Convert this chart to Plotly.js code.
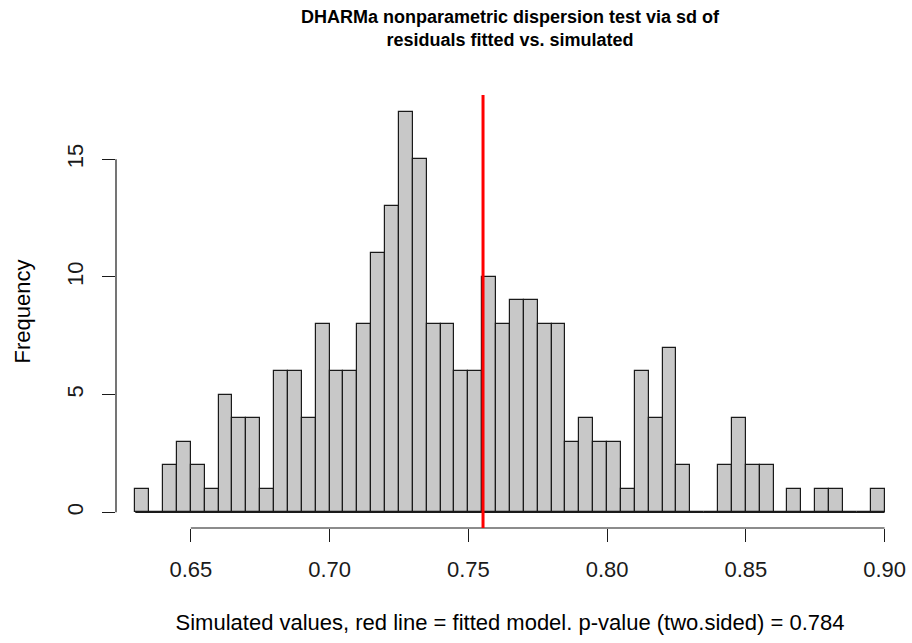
<!DOCTYPE html>
<html>
<head>
<meta charset="utf-8">
<script src="https://cdn.plot.ly/plotly-3.0.1.min.js"></script>
<style>
  html, body { margin: 0; padding: 0; background: #ffffff; }
  #chart { width: 912px; height: 643px; }
</style>
</head>
<body>
<div id="chart"></div>
<script>
// Histogram bins (width 0.005, starting at 0.630)
const binStart = 0.630;
const binWidth = 0.005;
const counts = [
  1, 0, 2, 3, 2, 1, 5, 4, 4, 1,
  6, 6, 4, 8, 6, 6, 8, 11, 13, 17,
  15, 8, 8, 6, 6, 10, 8, 9, 9, 8,
  8, 3, 4, 3, 3, 1, 6, 4, 7, 2,
  0, 0, 2, 4, 2, 2, 0, 1, 0, 1,
  1, 0, 0, 1
];
const fittedValue = 0.7553;
const xTicks = [0.65, 0.70, 0.75, 0.80, 0.85, 0.90];
const yTicks = [0, 5, 10, 15];
const titleText = "DHARMa nonparametric dispersion test via sd of<br>residuals fitted vs. simulated";
const xTitle = "Simulated values, red line = fitted model. p-value (two.sided) = 0.784";
const yTitle = "Frequency";

const centers = counts.map((c, i) => binStart + binWidth * (i + 0.5));
const binEnd = binStart + binWidth * counts.length;

const FONT = "Liberation Sans, Arial, Helvetica, sans-serif";

const trace = {
  type: "bar",
  x: centers,
  y: counts,
  width: counts.map(() => binWidth),
  marker: { color: "#c8c8c8", line: { color: "#1a1a1a", width: 1.2 } },
  hoverinfo: "x+y",
  showlegend: false
};

const layout = {
  width: 912,
  height: 643,
  margin: { l: 116, r: 8, t: 95, b: 115 },
  paper_bgcolor: "#ffffff",
  plot_bgcolor: "#ffffff",
  font: { family: FONT, color: "#000000", size: 22 },
  bargap: 0,
  title: {
    text: "<b>" + titleText + "</b>",
    font: { family: FONT, size: 18, color: "#000000" },
    x: 0.5, xanchor: "center",
    y: 1 - 23 / 643, yanchor: "top",
    xref: "paper", yref: "container"
  },
  xaxis: {
    range: [0.62304, 0.907],
    tickvals: xTicks,
    ticktext: xTicks.map(v => v.toFixed(2)),
    ticks: "outside",
    ticklen: 13,
    tickwidth: 1.2,
    tickcolor: "#1a1a1a",
    showline: false,
    showgrid: false,
    zeroline: false,
    tickfont: { family: FONT, size: 22, color: "#1a1a1a" },
    ticklabelstandoff: 9,
    title: { text: xTitle, font: { family: FONT, size: 22, color: "#000000" }, standoff: 33 }
  },
  yaxis: {
    range: [-0.667, 17.73],
    tickvals: yTicks,
    ticktext: yTicks.map(String),
    tickangle: -90,
    ticks: "outside",
    ticklen: 13,
    tickwidth: 1.2,
    tickcolor: "#1a1a1a",
    showline: false,
    showgrid: false,
    zeroline: false,
    tickfont: { family: FONT, size: 22, color: "#1a1a1a" },
    ticklabelstandoff: 10,
    title: { text: yTitle, font: { family: FONT, size: 22, color: "#000000" }, standoff: 26 }
  },
  shapes: [
    // x axis line spanning first to last tick
    { type: "line", xref: "x", yref: "paper", x0: xTicks[0], x1: xTicks[xTicks.length - 1], y0: 0, y1: 0,
      line: { color: "#1a1a1a", width: 1.2 } },
    // y axis line spanning first to last tick
    { type: "line", xref: "paper", yref: "y", x0: 0, x1: 0, y0: yTicks[0], y1: yTicks[yTicks.length - 1],
      line: { color: "#1a1a1a", width: 1.2 } },
    // baseline under histogram (shows empty bins)
    { type: "line", xref: "x", yref: "y", x0: binStart, x1: binEnd, y0: 0, y1: 0,
      line: { color: "#1a1a1a", width: 1.2 }, layer: "above" },
    // fitted value red line
    { type: "line", xref: "x", yref: "paper", x0: fittedValue, x1: fittedValue, y0: 0, y1: 1,
      line: { color: "#ff0000", width: 3 }, layer: "above" }
  ]
};

Plotly.newPlot("chart", [trace], layout, { displayModeBar: false, staticPlot: false });
</script>
</body>
</html>
